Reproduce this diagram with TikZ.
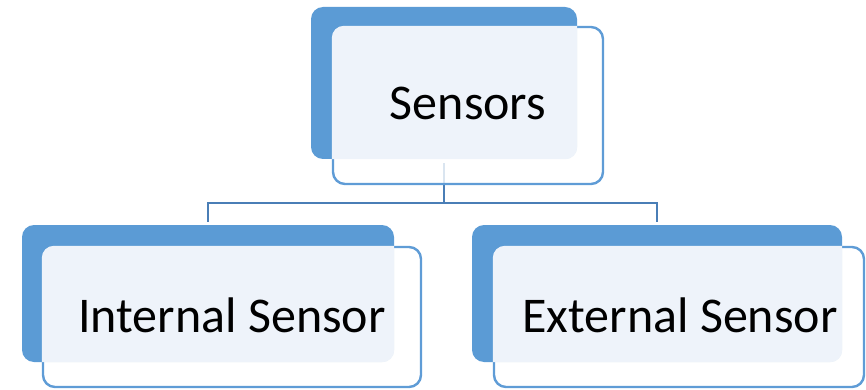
\documentclass[tikz,border=0pt]{standalone}
\usepackage{fontspec}
\setmainfont{Carlito}
\definecolor{backblue}{HTML}{5B9BD5}
\definecolor{paneblue}{HTML}{EEF3FA}
\definecolor{edgeblue}{HTML}{5F9CD6}
\definecolor{linkblue}{HTML}{4A7EB6}
\begin{document}
\begin{tikzpicture}[x=1pt,y=-1pt,
  backbox/.style={fill=backblue, rounded corners=12pt, inner sep=0pt},
  frontbox/.style={fill=white, fill opacity=0.8, draw=edgeblue, line width=2.4pt,
                   rounded corners=12pt, inner sep=0pt},
  link/.style={draw=linkblue, line width=2pt},
  label/.style={anchor=base, inner sep=0pt, font=\fontsize{50}{60}\selectfont}]
\useasboundingbox (0,0) rectangle (866,390);

% back panels
\node[backbox, minimum width=266pt, minimum height=152pt] (topback) at (444,83) {};
\node[backbox, minimum width=372pt, minimum height=137pt] (leftback) at (208,293.5) {};
\node[backbox, minimum width=370pt, minimum height=137pt] (rightback) at (657,293.5) {};

% tree connectors
\coordinate (bus) at (444,203);
\draw[link] ([yshift=-4pt]topback.south) -- (bus);
\draw[link] ([yshift=3pt]leftback.north) |- (bus) -| ([yshift=3pt]rightback.north);

% front panels
\node[frontbox, minimum width=270pt, minimum height=157pt] (topfront) at (468,105.5) {};
\node[frontbox, minimum width=378pt, minimum height=140pt] (leftfront) at (232,317) {};
\node[frontbox, minimum width=370pt, minimum height=140pt] (rightfront) at (679,317) {};

% tinted overlap of front and back panels
\foreach \b/\f in {topback/topfront, leftback/leftfront, rightback/rightfront}{
  \begin{scope}
    \clip[rounded corners=12pt] (\b.north west) rectangle (\b.south east);
    \fill[paneblue, rounded corners=12pt] (\f.north west) rectangle (\f.south east);
  \end{scope}
}

% labels
\node[label] (toptext) at (468,120) {Sensors};
\node[label] (lefttext) at (232,332) {Internal Sensor};
\node[label] (righttext) at (680,332) {External Sensor};
\end{tikzpicture}
\end{document}
